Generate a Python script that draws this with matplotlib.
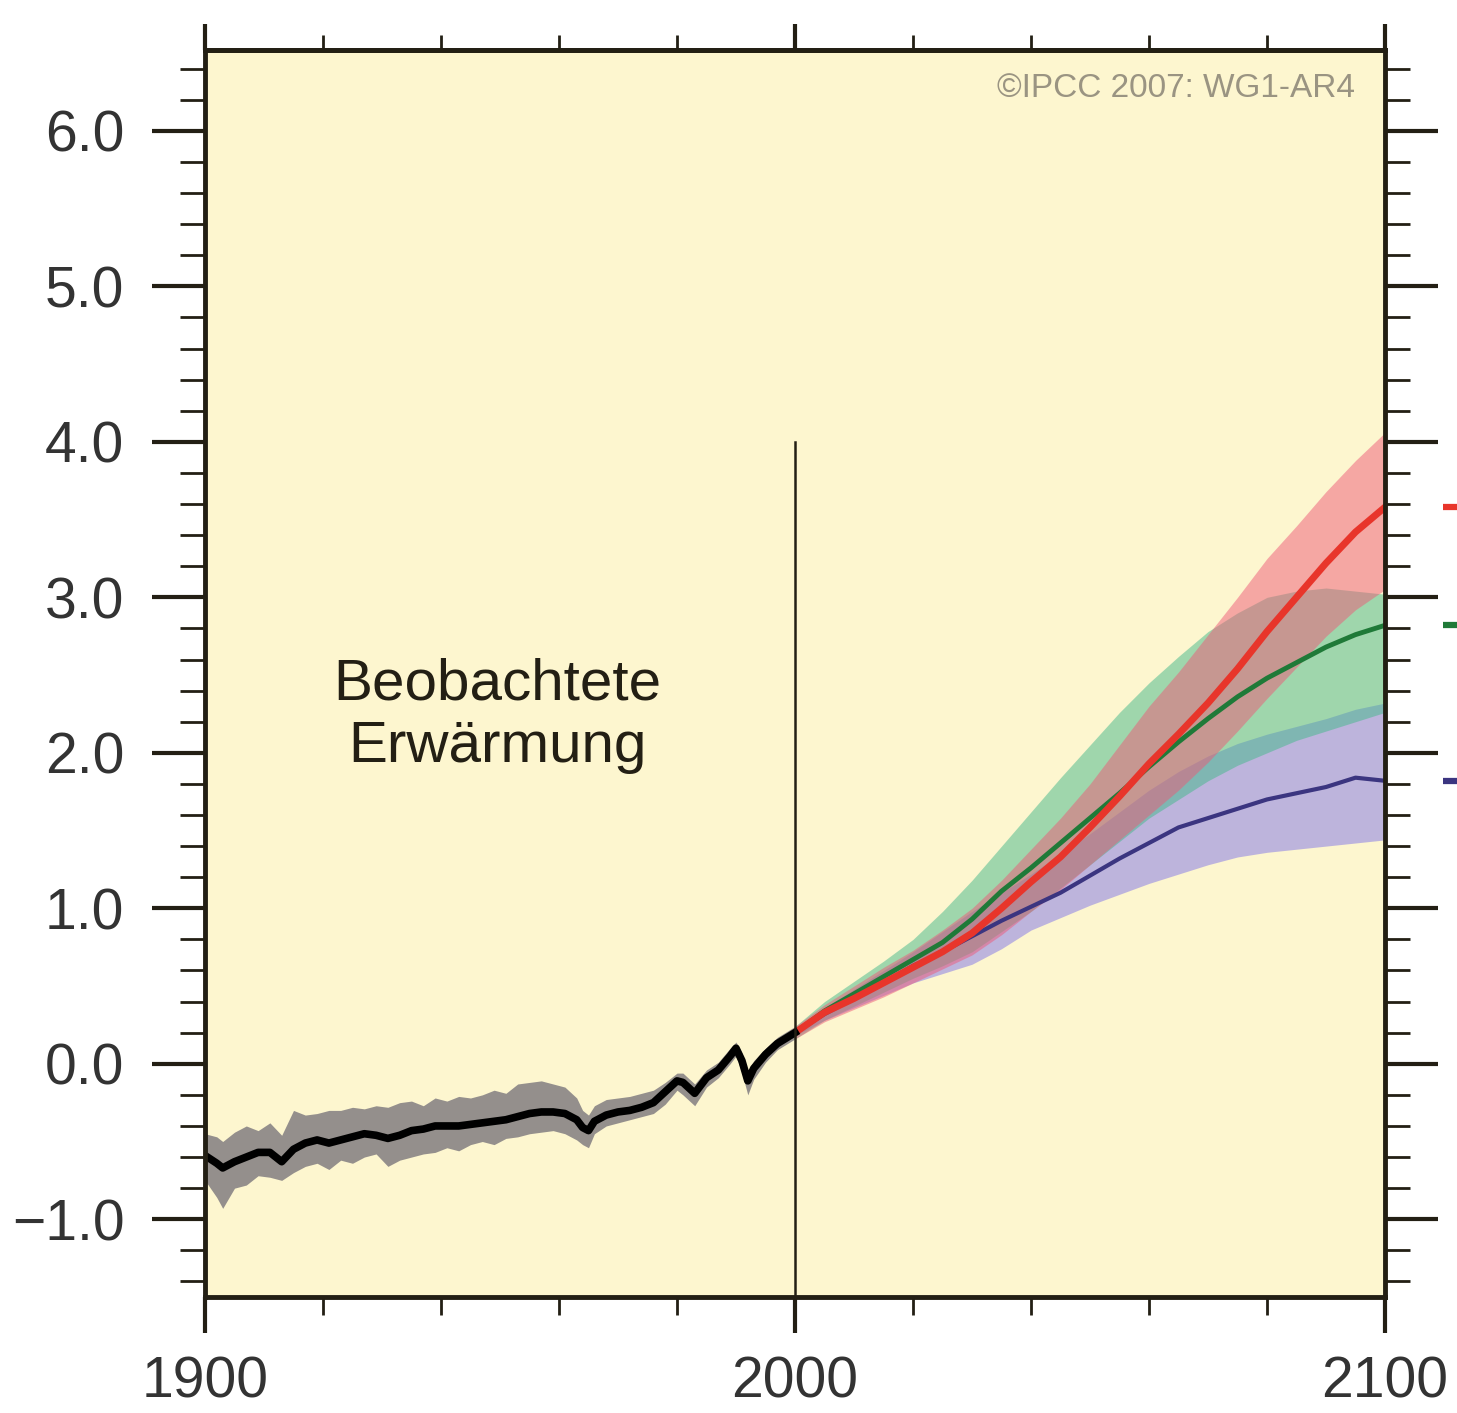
import numpy as np
import matplotlib
matplotlib.use("Agg")
import matplotlib.pyplot as plt
from matplotlib.ticker import MultipleLocator

plt.rcParams['font.family'] = ['Liberation Sans', 'DejaVu Sans']

# observed warming 1900-2000 (mean, upper, lower edge of grey band)
obs_years = [1900, 1902, 1903, 1905, 1907, 1909, 1911, 1913, 1915, 1917, 1919, 1921,
             1923, 1925, 1927, 1929, 1931, 1933, 1935, 1937, 1939, 1941, 1943, 1945,
             1947, 1949, 1951, 1953, 1955, 1957, 1959, 1961, 1963, 1964, 1965, 1966,
             1968, 1970, 1972, 1974, 1976, 1978, 1980, 1981, 1983, 1985, 1987, 1989,
             1990, 1991, 1992, 1993, 1995, 1997, 2000]
obs_mean = [-0.59, -0.64, -0.67, -0.63, -0.60, -0.57, -0.57, -0.63, -0.55, -0.51, -0.49, -0.51,
            -0.49, -0.47, -0.45, -0.46, -0.48, -0.46, -0.43, -0.42, -0.40, -0.40, -0.40, -0.39,
            -0.38, -0.37, -0.36, -0.34, -0.32, -0.31, -0.31, -0.32, -0.36, -0.41, -0.43, -0.37,
            -0.33, -0.31, -0.30, -0.28, -0.25, -0.18, -0.11, -0.12, -0.19, -0.09, -0.04, 0.05,
            0.10, 0.02, -0.11, -0.03, 0.06, 0.13, 0.20]
obs_upper = [-0.45, -0.47, -0.50, -0.44, -0.40, -0.43, -0.38, -0.46, -0.30, -0.33, -0.32, -0.30,
             -0.30, -0.28, -0.29, -0.27, -0.28, -0.25, -0.24, -0.27, -0.22, -0.24, -0.21, -0.22,
             -0.20, -0.17, -0.19, -0.13, -0.12, -0.11, -0.13, -0.15, -0.22, -0.30, -0.33, -0.27,
             -0.23, -0.22, -0.21, -0.19, -0.17, -0.12, -0.06, -0.06, -0.13, -0.04, 0.01, 0.10,
             0.14, 0.07, -0.05, 0.02, 0.10, 0.17, 0.24]
obs_lower = [-0.75, -0.86, -0.93, -0.80, -0.78, -0.72, -0.73, -0.75, -0.70, -0.66, -0.64, -0.68,
             -0.62, -0.64, -0.60, -0.58, -0.66, -0.62, -0.60, -0.58, -0.57, -0.54, -0.56, -0.52,
             -0.50, -0.52, -0.48, -0.47, -0.45, -0.44, -0.43, -0.45, -0.49, -0.52, -0.54, -0.45,
             -0.40, -0.38, -0.36, -0.34, -0.32, -0.26, -0.17, -0.20, -0.27, -0.15, -0.09, 0.00,
             0.05, -0.06, -0.20, -0.10, 0.01, 0.09, 0.16]

# scenario projections 2000-2100
proj_years = [2000, 2005, 2010, 2015, 2020, 2025, 2030, 2035, 2040, 2045, 2050,
              2055, 2060, 2065, 2070, 2075, 2080, 2085, 2090, 2095, 2100]
a2_mean = [0.20, 0.33, 0.42, 0.52, 0.62, 0.72, 0.84, 1.00, 1.17, 1.33, 1.52,
           1.72, 1.93, 2.12, 2.32, 2.54, 2.78, 3.00, 3.22, 3.42, 3.58]
a2_upper = [0.24, 0.38, 0.50, 0.62, 0.73, 0.86, 1.00, 1.18, 1.38, 1.58, 1.80,
            2.05, 2.30, 2.52, 2.76, 3.00, 3.25, 3.46, 3.68, 3.88, 4.06]
a2_lower = [0.16, 0.27, 0.35, 0.43, 0.52, 0.61, 0.70, 0.83, 0.98, 1.12, 1.28,
            1.44, 1.60, 1.76, 1.94, 2.14, 2.35, 2.55, 2.75, 2.92, 3.05]
a1b_mean = [0.20, 0.34, 0.45, 0.56, 0.67, 0.78, 0.93, 1.11, 1.26, 1.42, 1.58,
            1.74, 1.91, 2.07, 2.22, 2.36, 2.48, 2.58, 2.68, 2.76, 2.82]
a1b_upper = [0.24, 0.40, 0.53, 0.66, 0.80, 0.98, 1.18, 1.40, 1.62, 1.84, 2.05,
             2.26, 2.45, 2.62, 2.78, 2.90, 3.00, 3.04, 3.06, 3.04, 3.02]
a1b_lower = [0.16, 0.28, 0.37, 0.46, 0.55, 0.63, 0.72, 0.85, 0.98, 1.13, 1.28,
             1.43, 1.58, 1.70, 1.82, 1.92, 2.00, 2.08, 2.14, 2.20, 2.26]
b1_mean = [0.20, 0.32, 0.42, 0.52, 0.63, 0.72, 0.82, 0.92, 1.01, 1.10, 1.21,
           1.32, 1.42, 1.52, 1.58, 1.64, 1.70, 1.74, 1.78, 1.84, 1.82]
b1_upper = [0.22, 0.36, 0.48, 0.60, 0.72, 0.85, 0.98, 1.10, 1.22, 1.35, 1.48,
            1.62, 1.76, 1.88, 1.98, 2.06, 2.12, 2.17, 2.22, 2.28, 2.32]
b1_lower = [0.18, 0.28, 0.36, 0.44, 0.52, 0.58, 0.64, 0.74, 0.86, 0.94, 1.02,
            1.09, 1.16, 1.22, 1.28, 1.33, 1.36, 1.38, 1.40, 1.42, 1.44]

ytick_vals = [-1.0, 0.0, 1.0, 2.0, 3.0, 4.0, 5.0, 6.0]
ytick_labels = ['\u22121.0', '0.0', '1.0', '2.0', '3.0', '4.0', '5.0', '6.0']
xtick_vals = [1900, 2000, 2100]
xtick_labels = ['1900', '2000', '2100']
xminor_vals = [1920, 1940, 1960, 1980, 2020, 2040, 2060, 2080]

ink = '#231f14'
labcol = '#333333'

fig = plt.figure(figsize=(14.57, 14.13), dpi=100)
ax = fig.add_axes([0.1407, 0.0821, 0.8099, 0.8825])
ax.set_facecolor('#fdf6cf')
ax.set_xlim(1900, 2100)
ax.set_ylim(-1.5, 6.52)

# bands
ax.fill_between(proj_years, b1_lower, b1_upper, color='#8a7ee8', alpha=0.55, lw=0)
ax.fill_between(proj_years, a1b_lower, a1b_upper, color='#43b88a', alpha=0.5, lw=0)
ax.fill_between(proj_years, a2_lower, a2_upper, color='#ee5a78', alpha=0.5, lw=0)
ax.fill_between(obs_years, obs_lower, obs_upper, color='#948f8c', lw=0)

# lines
ax.plot(proj_years, b1_mean, color='#3b3580', lw=3)
ax.plot(proj_years, a1b_mean, color='#1f7a38', lw=3.5)
ax.plot(proj_years, a2_mean, color='#e8352b', lw=5)
ax.plot(obs_years, obs_mean, color='black', lw=5.5)

ax.axvline(2000, ymin=0, ymax=(4.0 + 1.5) / (6.52 + 1.5), color=ink, lw=1.8)

# little colour marks at the right edge
for vals, c in [(a2_mean, '#e8352b'), (a1b_mean, '#1f7a38'), (b1_mean, '#3b3580')]:
    ax.plot([2109.8, 2114], [vals[-1], vals[-1]], color=c, lw=4.5, clip_on=False,
            solid_capstyle='butt')

ax.text(1949.6, 1.94, 'Beobachtete\nErwärmung', ha='center', va='baseline',
        fontsize=42, color=ink, linespacing=1.2)
ax.text(0.9746, 0.962, '\u00a9IPCC 2007: WG1-AR4', transform=ax.transAxes,
        ha='right', va='baseline', fontsize=24, color='#9a9482')

# axes / ticks
for s in ax.spines.values():
    s.set_linewidth(3.5)
    s.set_color(ink)

ax.set_yticks(ytick_vals)
ax.set_yticklabels(ytick_labels)
ax.yaxis.set_minor_locator(MultipleLocator(0.2))
ax.set_xticks(xtick_vals)
ax.set_xticklabels(xtick_labels)
ax.set_xticks(xminor_vals, minor=True)

ax.tick_params(axis='y', which='major', direction='out', left=True, right=True,
               length=38, width=3, color=ink, labelsize=41, labelcolor=labcol, pad=20)
ax.tick_params(axis='y', which='minor', direction='out', left=True, right=True,
               length=18, width=2, color=ink)
ax.tick_params(axis='x', which='major', direction='out', top=False, length=26,
               width=3, color=ink, labelsize=41, labelcolor=labcol, pad=16)
ax.tick_params(axis='x', which='minor', direction='out', top=False, length=13,
               width=2, color=ink)

secax = ax.secondary_xaxis('top')
secax.set_ticks(xtick_vals)
secax.set_ticks(xminor_vals, minor=True)
secax.tick_params(which='major', direction='out', length=19, width=3, color=ink,
                  labeltop=False)
secax.tick_params(which='minor', direction='out', length=11, width=2, color=ink,
                  labeltop=False)
secax.spines['top'].set_linewidth(3.5)
secax.spines['top'].set_color(ink)

fig.savefig('out.png', dpi=100, facecolor='white')
